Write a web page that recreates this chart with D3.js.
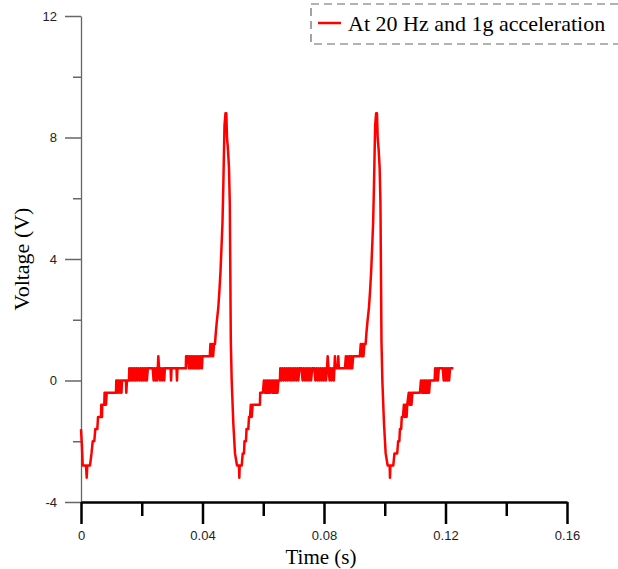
<!DOCTYPE html>
<html>
<head>
<meta charset="utf-8">
<script src="https://cdn.jsdelivr.net/npm/d3@7"></script>
<style>
  body { margin: 0; background: #fff; }
  svg { display: block; }
</style>
</head>
<body>
<svg id="chart" width="618" height="569"></svg>
<script>
// tick values / labels
const xTicks = [0, 0.04, 0.08, 0.12, 0.16];
const xTickLabels = ["0", "0.04", "0.08", "0.12", "0.16"];
const xMinorTicks = [0.02, 0.06, 0.1, 0.14];
const yTicks = [-4, 0, 4, 8, 12];
const yTickLabels = ["-4", "0", "4", "8", "12"];
const yMinorTicks = [-2, 2, 6, 10];

const seriesName = "At 20 Hz and 1g acceleration";

// [time (ms), voltage (V)]
const cycle1 = [
    [0, -1.6], [0.33, -2.2], [0.56, -2.8], [1.65, -2.8], [1.88, -3.2], [2.07, -2.8], [2.96, -2.8],
    [3.46, -2.4], [3.85, -2.0], [4.38, -2.0], [4.71, -1.6], [5.37, -1.6], [5.6, -1.2], [6.58, -1.2],
    [6.68, -0.8], [6.91, -1.2], [7.0, -0.8], [7.67, -0.8], [7.77, -0.4], [7.9, -0.8], [8.07, -0.4],
    [8.23, -0.8], [8.46, -0.4], [11.52, -0.4], [11.62, 0], [11.85, -0.4], [12.02, 0], [12.35, -0.4],
    [12.51, 0], [12.84, -0.4], [13.0, 0], [13.33, -0.4], [13.5, 0], [14.81, 0], [14.91, -0.4],
    [15.14, 0], [15.8, 0], [15.9, 0.4], [16.2, 0], [16.5, 0.4], [16.8, 0], [17.1, 0.4], [17.4, 0],
    [17.7, 0.4], [18.0, 0], [18.3, 0.4], [18.6, 0], [18.9, 0.4], [19.3, 0], [19.6, 0.4], [19.9, 0],
    [20.2, 0.4], [20.5, 0], [20.8, 0.4], [21.1, 0], [21.4, 0.4], [21.7, 0], [22.0, 0.4], [23.6, 0.4],
    [23.9, 0], [24.2, 0.4], [24.5, 0], [24.8, 0.4], [25.1, 0], [25.45, 0.8], [25.7, 0.4], [26.0, 0],
    [26.3, 0.4], [26.7, 0], [27.0, 0.4], [27.4, 0], [27.6, 0.4], [29.5, 0.4], [29.65, 0], [29.8, 0.4],
    [31.45, 0.4], [31.6, 0], [31.75, 0.4], [34.5, 0.4], [34.6, 0.8], [35.2, 0.8], [35.5, 0.4],
    [35.8, 0.8], [36.1, 0.4], [36.4, 0.8], [36.7, 0.4], [37.0, 0.8], [37.3, 0.4], [37.6, 0.8],
    [37.9, 0.4], [38.2, 0.8], [38.5, 0.4], [38.8, 0.8], [39.1, 0.4], [39.4, 0.8], [39.8, 0.4],
    [40.0, 0.8], [42.4, 0.8], [42.6, 1.2], [42.9, 0.8], [43.2, 1.2], [43.5, 0.8], [43.8, 1.2],
    [44.1, 1.2], [44.4, 1.6], [44.77, 2.0], [45.2, 2.4], [45.6, 3.0], [45.93, 3.6], [46.26, 4.4],
    [46.58, 5.2], [46.85, 6.4], [47.08, 7.6], [47.24, 8.4], [47.57, 8.8], [47.84, 8.8], [48.07, 8.0],
    [48.39, 7.6], [48.72, 7.0], [48.99, 5.8], [49.15, 3.6], [49.32, 1.3], [49.61, 0], [50.14, -1.4],
    [50.7, -2.4], [51.36, -2.8], [52.02, -2.8], [52.12, -3.2], [52.25, -2.8], [52.91, -2.8]
];

const cycle2 = [
    [53.24, -2.4], [53.66, -2.4], [53.83, -2.0], [54.32, -2.0], [54.49, -1.6], [55.08, -1.6],
    [55.31, -1.2], [55.64, -1.2], [55.9, -0.8], [56.2, -1.2], [56.5, -0.8], [58.9, -0.8], [59.0, -0.4],
    [59.9, -0.4], [60.2, 0], [60.5, -0.4], [60.8, 0], [61.1, -0.4], [61.4, 0], [61.7, -0.4], [62.0, 0],
    [62.3, -0.4], [62.6, 0], [62.9, -0.4], [63.2, 0], [63.5, -0.4], [63.8, 0], [64.1, -0.4], [64.4, 0],
    [64.7, -0.4], [65.0, 0], [65.5, 0], [65.6, 0.4], [65.95, 0], [66.3, 0.4], [66.65, 0], [67.0, 0.4],
    [67.35, 0], [67.7, 0.4], [68.05, 0], [68.4, 0.4], [68.75, 0], [69.1, 0.4], [69.45, 0], [69.8, 0.4],
    [70.15, 0], [70.5, 0.4], [70.85, 0], [71.2, 0.4], [71.55, 0], [71.9, 0.4], [72.6, 0.4], [72.95, 0],
    [73.3, 0.4], [73.65, 0], [74.0, 0.4], [74.35, 0], [74.7, 0.4], [75.05, 0], [75.4, 0.4], [75.75, 0],
    [76.1, 0.4], [76.8, 0.4], [77.15, 0], [77.5, 0.4], [77.85, 0], [78.2, 0.4], [78.55, 0], [78.9, 0.4],
    [79.25, 0], [79.6, 0.4], [79.95, 0], [80.3, 0.4], [80.65, 0], [81.0, 0.4], [81.2, 0.8], [81.5, 0.4],
    [81.85, 0], [82.2, 0.4], [82.55, 0], [82.9, 0.4], [83.25, 0], [83.6, 0.8], [83.8, 0.4], [84.5, 0.4],
    [84.7, 0.8], [84.9, 0.4], [86.9, 0.4], [87.2, 0.8], [87.5, 0.4], [87.8, 0.8], [88.1, 0.4],
    [88.4, 0.8], [88.7, 0.4], [89.0, 0.8], [89.3, 0.4], [89.6, 0.8], [91.8, 0.8], [92.1, 1.2],
    [92.4, 0.8], [92.7, 1.2], [93.0, 0.8], [93.3, 1.2], [93.7, 1.2], [94.0, 1.6], [94.37, 2.0],
    [94.8, 2.4], [95.2, 3.0], [95.53, 3.6], [95.86, 4.4], [96.18, 5.2], [96.45, 6.4], [96.68, 7.6],
    [96.84, 8.4], [97.17, 8.8], [97.44, 8.8], [97.67, 8.0], [97.99, 7.6], [98.32, 7.0], [98.59, 5.8],
    [98.75, 3.6], [98.92, 1.3], [99.21, 0], [99.74, -1.4], [100.3, -2.4], [100.96, -2.8], [101.62, -2.8],
    [101.72, -3.2], [101.85, -2.8], [102.8, -2.8]
];

const cycle3 = [
    [103.2, -2.4], [104.1, -2.4], [104.4, -2.0], [104.8, -2.0], [105.0, -1.6], [105.4, -1.6],
    [105.6, -1.2], [106.0, -1.2], [106.3, -0.8], [106.6, -1.2], [106.9, -0.8], [107.2, -1.2],
    [107.4, -0.8], [107.9, -0.4], [108.2, -0.8], [108.5, -0.4], [108.8, -0.8], [109.1, -0.4],
    [111.6, -0.4], [111.9, 0], [112.2, -0.4], [112.5, 0], [112.8, -0.4], [113.1, 0], [113.4, -0.4],
    [113.7, 0], [114.0, -0.4], [114.3, 0], [114.6, -0.4], [114.9, 0], [116.4, 0], [116.6, 0.4],
    [116.9, 0], [117.2, 0.4], [117.5, 0], [117.8, 0.4], [119.1, 0.4], [119.4, 0], [119.7, 0.4],
    [120.0, 0], [120.3, 0.4], [120.6, 0], [120.9, 0.4], [121.2, 0], [121.5, 0.4], [122.6, 0.4]
];

const data = cycle1.concat(cycle2, cycle3).map(d => ({ t: d[0] / 1000, v: d[1] }));

const svg = d3.select("#chart");

// scales
const x = d3.scaleLinear().domain([0, 0.16]).range([81, 567]);
const y = d3.scaleLinear().domain([-4, 12]).range([502, 16]);

// y axis (grey)
const yAxis = svg.append("g")
    .attr("transform", `translate(${x(0)},0)`)
    .call(d3.axisLeft(y).tickValues(yTicks).tickSize(16).tickSizeOuter(0).tickPadding(8)
        .tickFormat((d, i) => yTickLabels[i]));
yAxis.select(".domain").attr("stroke", "#666").attr("stroke-width", 1.3);
yAxis.selectAll(".tick line").attr("stroke", "#666").attr("stroke-width", 1.5);
yAxis.selectAll(".tick text")
    .attr("fill", "#222")
    .style("font-family", "'Liberation Sans', Arial, sans-serif")
    .style("font-size", "13px");

svg.append("g")
    .attr("transform", `translate(${x(0)},0)`)
    .call(d3.axisLeft(y).tickValues(yMinorTicks).tickSize(8).tickFormat(""))
    .call(g => g.select(".domain").remove())
    .selectAll(".tick line").attr("stroke", "#666").attr("stroke-width", 1.5);

// x axis (black, thick)
const xAxis = svg.append("g")
    .attr("transform", `translate(0,${y(-4)})`)
    .call(d3.axisBottom(x).tickValues(xTicks).tickSize(22).tickSizeOuter(0).tickPadding(7)
        .tickFormat((d, i) => xTickLabels[i]));
xAxis.select(".domain").attr("stroke", "#000").attr("stroke-width", 2.5);
xAxis.selectAll(".tick line").attr("stroke", "#000").attr("stroke-width", 2.5);
xAxis.selectAll(".tick text")
    .attr("fill", "#222")
    .style("font-family", "'Liberation Sans', Arial, sans-serif")
    .style("font-size", "13px");

svg.append("g")
    .attr("transform", `translate(0,${y(-4)})`)
    .call(d3.axisBottom(x).tickValues(xMinorTicks).tickSize(14).tickFormat(""))
    .call(g => g.select(".domain").remove())
    .selectAll(".tick line").attr("stroke", "#000").attr("stroke-width", 2.5);

// axis titles
svg.append("text")
    .attr("x", 321)
    .attr("y", 564)
    .attr("text-anchor", "middle")
    .style("font-family", "'Liberation Serif', 'Times New Roman', serif")
    .style("font-size", "21px")
    .text("Time (s)");

svg.append("text")
    .attr("transform", "translate(29,259) rotate(-90)")
    .attr("text-anchor", "middle")
    .style("font-family", "'Liberation Serif', 'Times New Roman', serif")
    .style("font-size", "22px")
    .text("Voltage (V)");

// signal
const line = d3.line()
    .x(d => x(d.t))
    .y(d => y(d.v));

svg.append("path")
    .datum(data)
    .attr("d", line)
    .attr("fill", "none")
    .attr("stroke", "#ff0000")
    .attr("stroke-width", 2.5)
    .attr("stroke-linejoin", "round");

// legend (dashed box runs off the right edge)
const legend = svg.append("g");
legend.append("rect")
    .attr("x", 311)
    .attr("y", 4)
    .attr("width", 330)
    .attr("height", 40)
    .attr("fill", "none")
    .attr("stroke", "#666")
    .attr("stroke-width", 1.2)
    .attr("stroke-dasharray", "8,5");
legend.append("line")
    .attr("x1", 318).attr("x2", 341)
    .attr("y1", 23).attr("y2", 23)
    .attr("stroke", "#ff0000")
    .attr("stroke-width", 2.5);
legend.append("text")
    .attr("x", 348)
    .attr("y", 31)
    .style("font-family", "'Liberation Serif', 'Times New Roman', serif")
    .style("font-size", "22px")
    .text(seriesName);
</script>
</body>
</html>
